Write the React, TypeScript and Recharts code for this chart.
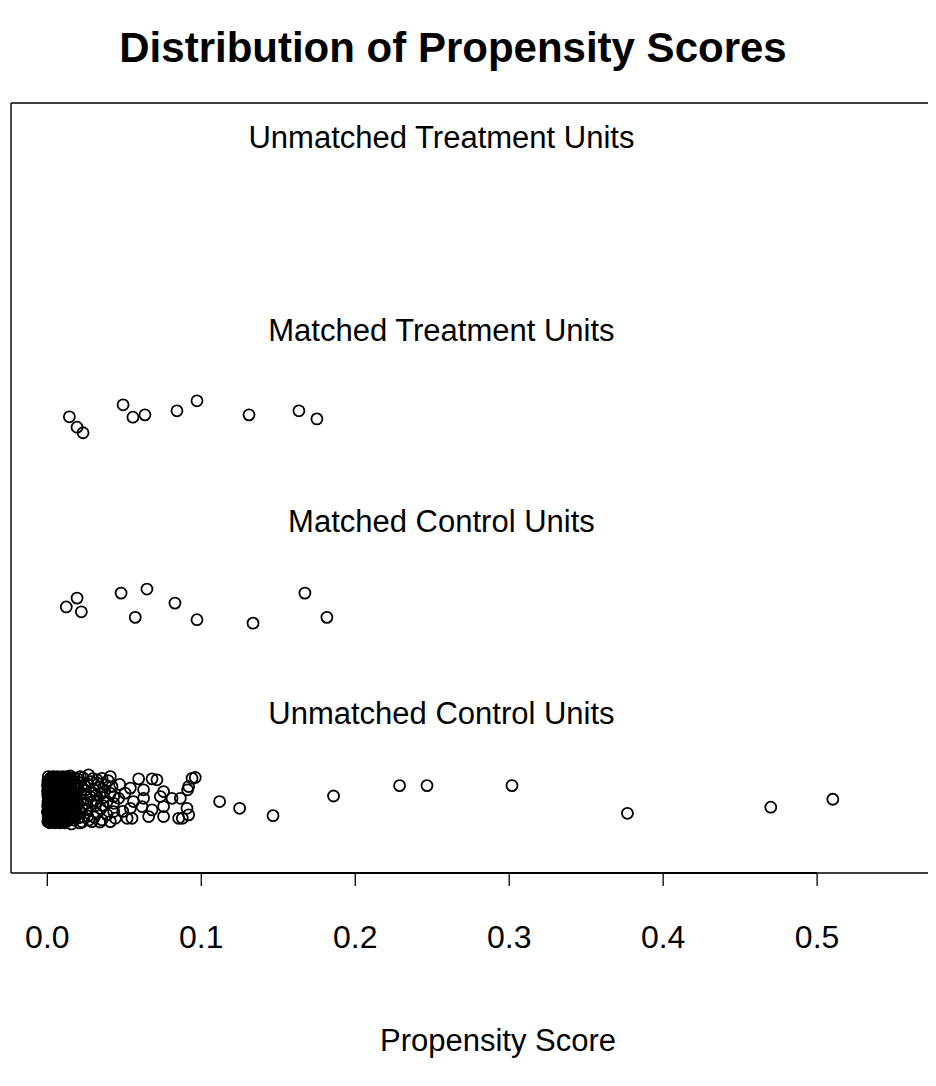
import React from "react";
import { ScatterChart, Scatter, XAxis, YAxis, ReferenceLine } from "recharts";

// Propensity score (x) and jittered group level (y) for each unit.
const matchedTreated: [number, number][] = [
  [0.0143, 3.040], [0.0193, 2.986], [0.0232, 2.957], [0.0492, 3.102],
  [0.0556, 3.038], [0.0634, 3.050], [0.0842, 3.071], [0.0972, 3.123],
  [0.1310, 3.050], [0.1634, 3.071], [0.1751, 3.029],
];

const matchedControl: [number, number][] = [
  [0.0123, 2.052], [0.0193, 2.098], [0.0221, 2.027], [0.0479, 2.124],
  [0.0647, 2.145], [0.0571, 1.998], [0.0829, 2.072], [0.0972, 1.986],
  [0.1336, 1.968], [0.1673, 2.124], [0.1816, 1.998],
];

// The bulk of unmatched controls, packed just above zero.
const unmatchedControlCore: [number, number][] = [
  [0.0006, 1.171], [0.0037, 1.171], [0.0065, 1.171], [0.0098, 1.171], [0.0127, 1.171],
  [0.0018, 1.158], [0.0049, 1.158], [0.0081, 1.158], [0.0110, 1.158], [0.0143, 1.158],
  [0.0003, 1.146], [0.0030, 1.146], [0.0061, 1.146], [0.0092, 1.146], [0.0124, 1.146], [0.0156, 1.146],
  [0.0012, 1.132], [0.0044, 1.132], [0.0075, 1.132], [0.0105, 1.132], [0.0137, 1.132],
  [0.0005, 1.119], [0.0026, 1.119], [0.0058, 1.119], [0.0088, 1.119], [0.0119, 1.119], [0.0151, 1.119],
  [0.0015, 1.107], [0.0046, 1.107], [0.0079, 1.107], [0.0112, 1.107], [0.0140, 1.107],
  [0.0002, 1.093], [0.0033, 1.093], [0.0064, 1.093], [0.0095, 1.093], [0.0129, 1.093], [0.0162, 1.093],
  [0.0020, 1.080], [0.0051, 1.080], [0.0083, 1.080], [0.0116, 1.080], [0.0146, 1.080],
  [0.0007, 1.068], [0.0038, 1.068], [0.0069, 1.068], [0.0101, 1.068], [0.0133, 1.068],
  [0.0016, 1.054], [0.0042, 1.054], [0.0074, 1.054], [0.0107, 1.054], [0.0139, 1.054], [0.0168, 1.054],
  [0.0004, 1.041], [0.0035, 1.041], [0.0066, 1.041], [0.0097, 1.041], [0.0126, 1.041],
  [0.0019, 1.028], [0.0053, 1.028], [0.0085, 1.028], [0.0114, 1.028], [0.0149, 1.028],
  [0.0008, 1.015], [0.0029, 1.015], [0.0060, 1.015], [0.0091, 1.015], [0.0122, 1.015], [0.0155, 1.015],
  [0.0013, 1.002], [0.0047, 1.002], [0.0077, 1.002], [0.0109, 1.002], [0.0136, 1.002],
  [0.0001, 0.989], [0.0034, 0.989], [0.0063, 0.989], [0.0096, 0.989], [0.0128, 0.989], [0.0159, 0.989],
  [0.0017, 0.976], [0.0050, 0.976], [0.0082, 0.976], [0.0113, 0.976], [0.0145, 0.976],
  [0.0006, 0.963], [0.0039, 0.963], [0.0070, 0.963], [0.0102, 0.963], [0.0131, 0.963],
  [0.0014, 0.950], [0.0045, 0.950], [0.0076, 0.950], [0.0108, 0.950], [0.0141, 0.950],
  [0.0003, 0.938], [0.0032, 0.938], [0.0067, 0.938], [0.0099, 0.938], [0.0125, 0.938],
];

const unmatchedControlCore2: [number, number][] = [
  [0.0021, 1.164], [0.0052, 1.164], [0.0084, 1.164], [0.0113, 1.164], [0.0146, 1.164],
  [0.0009, 1.151], [0.0034, 1.151], [0.0067, 1.151], [0.0096, 1.151], [0.0128, 1.151], [0.0160, 1.151],
  [0.0017, 1.139], [0.0047, 1.139], [0.0078, 1.139], [0.0108, 1.139], [0.0140, 1.139],
  [0.0001, 1.125], [0.0028, 1.125], [0.0060, 1.125], [0.0090, 1.125], [0.0121, 1.125], [0.0153, 1.125],
  [0.0011, 1.113], [0.0041, 1.113], [0.0073, 1.113], [0.0103, 1.113], [0.0135, 1.113],
  [0.0004, 1.100], [0.0031, 1.100], [0.0062, 1.100], [0.0094, 1.100], [0.0126, 1.100], [0.0157, 1.100],
  [0.0018, 1.086], [0.0048, 1.086], [0.0080, 1.086], [0.0111, 1.086], [0.0144, 1.086],
  [0.0003, 1.074], [0.0036, 1.074], [0.0067, 1.074], [0.0099, 1.074], [0.0130, 1.074], [0.0161, 1.074],
  [0.0022, 1.061], [0.0054, 1.061], [0.0086, 1.061], [0.0117, 1.061], [0.0150, 1.061],
  [0.0010, 1.047], [0.0029, 1.047], [0.0058, 1.047], [0.0090, 1.047], [0.0123, 1.047], [0.0154, 1.047],
  [0.0020, 1.034], [0.0050, 1.034], [0.0081, 1.034], [0.0112, 1.034], [0.0143, 1.034],
  [0.0002, 1.021], [0.0036, 1.021], [0.0068, 1.021], [0.0100, 1.021], [0.0132, 1.021], [0.0165, 1.021],
  [0.0025, 1.008], [0.0055, 1.008], [0.0086, 1.008], [0.0118, 1.008], [0.0150, 1.008],
  [0.0009, 0.995], [0.0040, 0.995], [0.0071, 0.995], [0.0104, 0.995], [0.0138, 0.995],
  [0.0003, 0.982], [0.0026, 0.982], [0.0058, 0.982], [0.0089, 0.982], [0.0120, 0.982], [0.0153, 0.982],
  [0.0012, 0.969], [0.0043, 0.969], [0.0075, 0.969], [0.0107, 0.969], [0.0136, 0.969],
  [0.0024, 0.956], [0.0056, 0.956], [0.0087, 0.956], [0.0118, 0.956], [0.0148, 0.956],
  [0.0007, 0.944], [0.0037, 0.944], [0.0069, 0.944], [0.0101, 0.944], [0.0133, 0.944],
  [0.0016, 0.931], [0.0049, 0.931], [0.0081, 0.931], [0.0112, 0.931],
];

// Unmatched controls thinning out between roughly 0.015 and 0.1.
const unmatchedControlSpread: [number, number][] = [
  [0.0214, 1.171], [0.0268, 1.180], [0.0323, 1.154], [0.0355, 1.162], [0.0409, 1.171],
  [0.0377, 1.128], [0.0420, 1.119], [0.0301, 1.102], [0.0355, 1.084], [0.0409, 1.084],
  [0.0323, 1.041], [0.0388, 1.041], [0.0431, 1.032], [0.0258, 0.998], [0.0323, 0.980],
  [0.0388, 0.972], [0.0431, 0.989], [0.0290, 0.937], [0.0355, 0.946], [0.0409, 0.937],
  [0.0236, 1.050], [0.0279, 1.067], [0.0175, 1.164], [0.0195, 1.102], [0.0182, 1.024],
  [0.0201, 0.956], [0.0162, 1.070], [0.0214, 0.987], [0.0240, 1.128], [0.0227, 0.935],
  [0.0156, 0.925], [0.0149, 1.174],
  [0.0178, 1.138], [0.0189, 1.046], [0.0205, 0.999], [0.0249, 1.080], [0.0262, 0.965],
  [0.0285, 1.145], [0.0312, 1.020], [0.0336, 1.118], [0.0348, 1.004], [0.0172, 0.980],
  [0.0196, 1.160], [0.0221, 1.115], [0.0254, 1.031], [0.0367, 1.062], [0.0395, 1.150],
  [0.0442, 0.955], [0.0470, 1.130], [0.0490, 0.990], [0.0505, 1.085],
  [0.0165, 1.150], [0.0170, 1.095], [0.0168, 1.010], [0.0172, 0.945], [0.0185, 1.125],
  [0.0188, 1.070], [0.0192, 0.970], [0.0198, 1.035], [0.0207, 1.140], [0.0210, 0.930],
  [0.0218, 1.085], [0.0225, 1.005], [0.0232, 1.165], [0.0238, 0.960], [0.0245, 1.100],
  [0.0252, 1.000], [0.0263, 1.130], [0.0270, 0.945], [0.0283, 1.040], [0.0296, 1.160],
  [0.0305, 0.960], [0.0318, 1.075], [0.0330, 1.135], [0.0342, 0.935], [0.0360, 1.020],
  [0.0372, 1.095],
  [0.0593, 1.159], [0.0680, 1.159], [0.0712, 1.154], [0.0940, 1.162], [0.0961, 1.166],
  [0.0539, 1.111], [0.0625, 1.102], [0.0755, 1.093], [0.0918, 1.119], [0.0911, 1.102],
  [0.0431, 1.067], [0.0463, 1.058], [0.0560, 1.041], [0.0625, 1.058], [0.0734, 1.067],
  [0.0810, 1.058], [0.0864, 1.058], [0.0539, 1.006], [0.0615, 1.015], [0.0680, 0.998],
  [0.0755, 1.015], [0.0907, 1.006], [0.0518, 0.954], [0.0550, 0.954], [0.0658, 0.963],
  [0.0755, 0.963], [0.0853, 0.954], [0.0877, 0.954], [0.0918, 0.972],
];

// The few unmatched controls with larger scores.
const unmatchedControlTail: [number, number][] = [
  [0.1119, 1.041], [0.1249, 1.006], [0.1466, 0.968], [0.1859, 1.070], [0.2288, 1.124],
  [0.2466, 1.124], [0.3018, 1.124], [0.3768, 0.980], [0.4699, 1.012], [0.5102, 1.053],
];

const groupLabels = [
  "Unmatched Treatment Units",
  "Matched Treatment Units",
  "Matched Control Units",
  "Unmatched Control Units",
];
const groupLabelLevels = [4.49, 3.49, 2.495, 1.5];
const labelCenter = 0.256;

const xTicks = [0, 0.1, 0.2, 0.3, 0.4, 0.5];
const xDomain: [number, number] = [-0.0236, 0.6136];
const yDomain: [number, number] = [0.67, 4.67];

const toPoints = (pairs: [number, number][]) => pairs.map(([x, y]) => ({ x, y }));
const labelData = groupLabels.map((text, i) => ({ x: labelCenter, y: groupLabelLevels[i], text }));

const FONT = "'Liberation Sans', Arial, Helvetica, sans-serif";
const W = 1000;
const H = 1070;

const Ring = (props: any) => {
  const { cx, cy } = props;
  if (cx == null || cy == null) return null;
  return <circle cx={cx} cy={cy} r={5.5} fill="none" stroke="#000" strokeWidth={1.8} />;
};

const GroupLabel = (props: any) => {
  const { cx, cy, payload } = props;
  if (cx == null || cy == null) return null;
  return (
    <text x={cx} y={cy} textAnchor="middle" dominantBaseline="central" fontSize={31} fontFamily={FONT} fill="#000">
      {payload.text}
    </text>
  );
};

const frame = { stroke: "#000", strokeWidth: 1.4, ifOverflow: "visible" as const };

export default function App() {
  return (
    <div style={{ width: 928, height: H, overflow: "hidden", position: "relative", background: "#fff" }}>
      <ScatterChart width={W} height={H} margin={{ top: 95, right: 16, bottom: 125, left: 3 }}>
        <XAxis
          type="number"
          dataKey="x"
          domain={xDomain}
          allowDataOverflow
          ticks={xTicks}
          tickFormatter={(v: number) => v.toFixed(1)}
          axisLine={false}
          tickLine={{ stroke: "#000", strokeWidth: 1.3 }}
          tickSize={13}
          tickMargin={39}
          height={80}
          tick={{ fontSize: 32, fontFamily: FONT, fill: "#000" }}
        />
        <YAxis type="number" dataKey="y" domain={yDomain} allowDataOverflow hide />
        {/* plot frame: left, top and bottom edges (the right edge lies past the page) */}
        <ReferenceLine segment={[{ x: xDomain[0], y: yDomain[0] }, { x: xDomain[0], y: yDomain[1] }]} {...frame} />
        <ReferenceLine segment={[{ x: xDomain[0], y: yDomain[1] }, { x: xDomain[1], y: yDomain[1] }]} {...frame} />
        <ReferenceLine segment={[{ x: xDomain[0], y: yDomain[0] }, { x: xDomain[1], y: yDomain[0] }]} {...frame} />
        {/* axis line spanning the first to the last tick */}
        <ReferenceLine segment={[{ x: 0, y: yDomain[0] }, { x: 0.5, y: yDomain[0] }]} stroke="#000" strokeWidth={2.2} ifOverflow="visible" />
        <Scatter data={toPoints(matchedTreated)} shape={<Ring />} isAnimationActive={false} />
        <Scatter data={toPoints(matchedControl)} shape={<Ring />} isAnimationActive={false} />
        <Scatter data={toPoints(unmatchedControlCore)} shape={<Ring />} isAnimationActive={false} />
        <Scatter data={toPoints(unmatchedControlCore2)} shape={<Ring />} isAnimationActive={false} />
        <Scatter data={toPoints(unmatchedControlSpread)} shape={<Ring />} isAnimationActive={false} />
        <Scatter data={toPoints(unmatchedControlTail)} shape={<Ring />} isAnimationActive={false} />
        <Scatter data={labelData} shape={<GroupLabel />} isAnimationActive={false} />
      </ScatterChart>
      <svg width={W} height={H} style={{ position: "absolute", left: 0, top: 0, pointerEvents: "none" }}>
        <text x={445} y={39} textAnchor="middle" dominantBaseline="central" fontSize={42} fontWeight="bold" fontFamily={FONT} fill="#000">
          Distribution of Propensity Scores
        </text>
        <text x={490} y={1032} textAnchor="middle" dominantBaseline="central" fontSize={31} fontFamily={FONT} fill="#000">
          Propensity Score
        </text>
      </svg>
    </div>
  );
}
